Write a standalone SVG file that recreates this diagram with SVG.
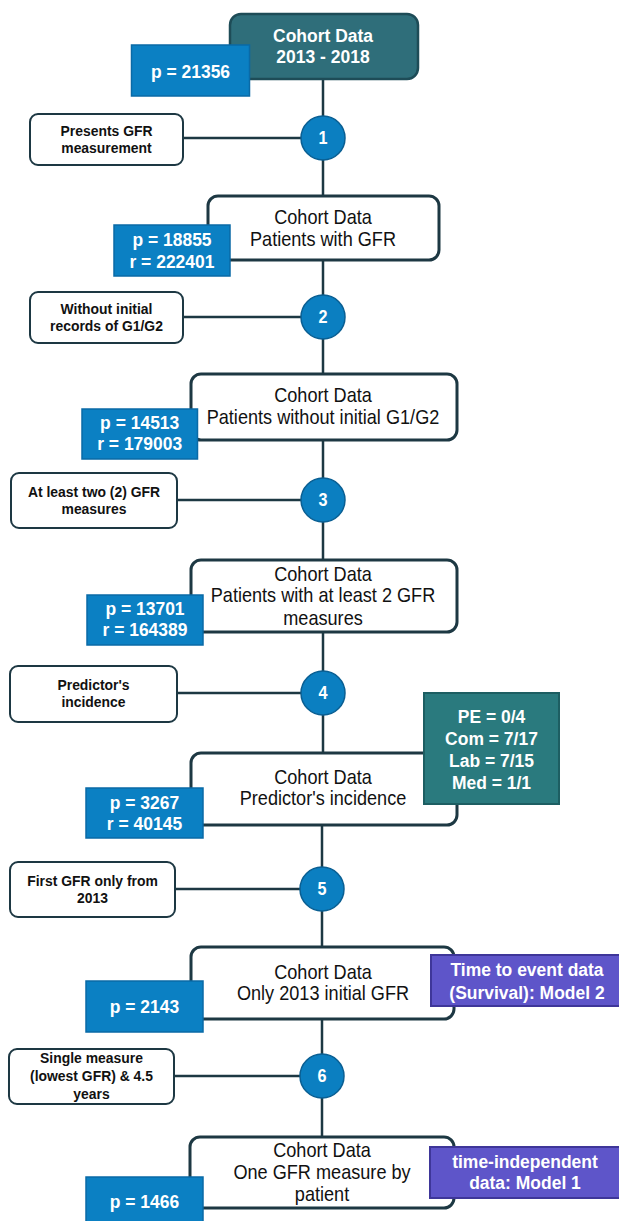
<svg xmlns="http://www.w3.org/2000/svg" width="619" height="1221" viewBox="0 0 619 1221">
<style>
.bg{fill:#ffffff}
.conn{stroke:#1d3843;stroke-width:2.5;fill:none}
.main{fill:#ffffff;stroke:#1d3843;stroke-width:3}
.top{fill:#2f6e7a;stroke:#1e4c57;stroke-width:2.5}
.crit{fill:#ffffff;stroke:#1d3843;stroke-width:2}
.pbox{fill:#0b80c3;stroke:#0a6aa6;stroke-width:1.5}
.teal{fill:#2a7a7e;stroke:#1d5e62;stroke-width:2}
.purple{fill:#5e55c9;stroke:#3e3699;stroke-width:2}
.circ{fill:#0b7fc1;stroke:#0a5f93;stroke-width:1.5}
text{font-family:"Liberation Sans",Arial,sans-serif;text-anchor:middle}
.mt{font-size:19.5px;fill:#111111;transform-box:fill-box;transform-origin:center;transform:scaleX(0.93)}
.wt{font-size:19px;font-weight:bold;fill:#ffffff;transform-box:fill-box;transform-origin:center;transform:scaleX(0.92)}
.ct{font-size:14.5px;font-weight:bold;fill:#111111;transform-box:fill-box;transform-origin:center;transform:scaleX(0.96)}
.nt{font-size:18px;font-weight:bold;fill:#ffffff;transform-box:fill-box;transform-origin:center;transform:scaleX(0.9)}
</style>
<rect class="bg" x="0" y="0" width="619" height="1221"/>
<g id="connectors">
<path class="conn" d="M323 79 V753 M322 825 V1137"/>
<path class="conn" d="M183 138 H301 M183 317 H301 M177 500 H301 M177 693 H301 M175 889 H300 M174 1076 H300"/>
</g>
<g id="n0">
<rect class="top" x="230" y="14" width="188" height="65" rx="11"/>
<text class="wt" x="323" y="42">Cohort Data</text>
<text class="wt" x="323" y="63.5">2013 - 2018</text>
<rect class="pbox" x="131.5" y="45" width="118" height="51"/>
<text class="wt" x="190.5" y="78">p = 21356</text>
</g>
<g id="c1">
<rect class="crit" x="30" y="114" width="153" height="51" rx="8"/>
<text class="ct" x="106.5" y="136">Presents GFR</text>
<text class="ct" x="106.5" y="153">measurement</text>
<circle class="circ" cx="323" cy="138" r="22"/>
<text class="nt" x="323" y="144.5">1</text>
</g>
<g id="n1">
<rect class="main" x="208" y="196" width="231" height="64" rx="10"/>
<text class="mt" x="323" y="224">Cohort Data</text>
<text class="mt" x="323" y="246">Patients with GFR</text>
<rect class="pbox" x="114" y="225" width="116" height="51"/>
<text class="wt" x="172" y="246.5">p = 18855</text>
<text class="wt" x="172" y="268.5">r = 222401</text>
</g>
<g id="c2">
<rect class="crit" x="30" y="292" width="153" height="51" rx="8"/>
<text class="ct" x="106.5" y="314">Without initial</text>
<text class="ct" x="106.5" y="331.3">records of G1/G2</text>
<circle class="circ" cx="323" cy="317" r="22"/>
<text class="nt" x="323" y="323.5">2</text>
</g>
<g id="n2">
<rect class="main" x="191" y="374" width="266" height="66" rx="10"/>
<text class="mt" x="323" y="402">Cohort Data</text>
<text class="mt" x="323" y="423.7">Patients without initial G1/G2</text>
<rect class="pbox" x="82" y="409" width="115.5" height="50"/>
<text class="wt" x="139.7" y="429.5">p = 14513</text>
<text class="wt" x="139.7" y="450">r = 179003</text>
</g>
<g id="c3">
<rect class="crit" x="11" y="473" width="166" height="55" rx="8"/>
<text class="ct" x="94" y="496.7">At least two (2) GFR</text>
<text class="ct" x="94" y="514.3">measures</text>
<circle class="circ" cx="323" cy="500" r="22"/>
<text class="nt" x="323" y="506.5">3</text>
</g>
<g id="n3">
<rect class="main" x="191" y="560" width="266" height="72" rx="10"/>
<text class="mt" x="323" y="581">Cohort Data</text>
<text class="mt" x="323" y="602">Patients with at least 2 GFR</text>
<text class="mt" x="323" y="625.3">measures</text>
<rect class="pbox" x="87" y="595" width="116" height="50"/>
<text class="wt" x="145" y="615">p = 13701</text>
<text class="wt" x="145" y="635.7">r = 164389</text>
</g>
<g id="c4">
<rect class="crit" x="10" y="666" width="167" height="56" rx="8"/>
<text class="ct" x="93.5" y="690">Predictor's</text>
<text class="ct" x="93.5" y="707.3">incidence</text>
<circle class="circ" cx="323" cy="693" r="22"/>
<text class="nt" x="323" y="699.5">4</text>
</g>
<g id="n4">
<rect class="main" x="191" y="753" width="266" height="72" rx="10"/>
<text class="mt" x="323" y="783.7">Cohort Data</text>
<text class="mt" x="323" y="804.7">Predictor's incidence</text>
<rect class="pbox" x="86" y="788" width="117" height="50"/>
<text class="wt" x="144.5" y="809.5">p = 3267</text>
<text class="wt" x="144.5" y="830">r = 40145</text>
<rect class="teal" x="424" y="693" width="135" height="111"/>
<text class="wt" x="491.5" y="722.8">PE = 0/4</text>
<text class="wt" x="491.5" y="745">Com = 7/17</text>
<text class="wt" x="491.5" y="766.8">Lab = 7/15</text>
<text class="wt" x="491.5" y="789">Med = 1/1</text>
</g>
<g id="c5">
<rect class="crit" x="10" y="862" width="165" height="55" rx="8"/>
<text class="ct" x="92.5" y="885.7">First GFR only from</text>
<text class="ct" x="92.5" y="902.7">2013</text>
<circle class="circ" cx="322" cy="889" r="22"/>
<text class="nt" x="322" y="895.5">5</text>
</g>
<g id="n5">
<rect class="main" x="191" y="947" width="263" height="72" rx="10"/>
<text class="mt" x="323" y="978.7">Cohort Data</text>
<text class="mt" x="323" y="1000.3">Only 2013 initial GFR</text>
<rect class="pbox" x="86" y="981" width="117" height="51"/>
<text class="wt" x="144.5" y="1012.8">p = 2143</text>
<rect class="purple" x="431" y="955" width="195" height="51"/>
<text class="wt" x="527" y="976.5">Time to event data</text>
<text class="wt" x="527" y="999.2">(Survival): Model 2</text>
</g>
<g id="c6">
<rect class="crit" x="9" y="1049" width="165" height="55" rx="8"/>
<text class="ct" x="91.5" y="1063.3">Single measure</text>
<text class="ct" x="91.5" y="1081">(lowest GFR) &amp; 4.5</text>
<text class="ct" x="91.5" y="1099">years</text>
<circle class="circ" cx="322" cy="1076" r="22"/>
<text class="nt" x="322" y="1082.5">6</text>
</g>
<g id="n6">
<rect class="main" x="190" y="1137" width="264" height="71" rx="10"/>
<text class="mt" x="322" y="1157">Cohort Data</text>
<text class="mt" x="322" y="1178.7">One GFR measure by</text>
<text class="mt" x="322" y="1201.3">patient</text>
<rect class="pbox" x="86" y="1177" width="117" height="50"/>
<text class="wt" x="144.5" y="1208.5">p = 1466</text>
<rect class="purple" x="430" y="1147" width="195" height="51"/>
<text class="wt" x="525" y="1168.2">time-independent</text>
<text class="wt" x="525" y="1188.8">data: Model 1</text>
</g>
</svg>
